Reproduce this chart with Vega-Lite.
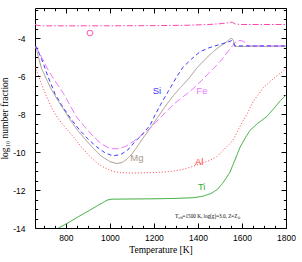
{
  "$schema": "https://vega.github.io/schema/vega-lite/v6.json",
  "width": 251,
  "height": 220,
  "autosize": "none",
  "padding": {"left": 35, "top": 8, "right": 16, "bottom": 34},
  "config": {"view": {"stroke": "black", "strokeWidth": 1}},
  "datasets": {
    "curves": [
      {"s":"Ti","T":766,"v":-14},{"s":"Ti","T":800,"v":-13.8},{"s":"Ti","T":850,"v":-13.45},{"s":"Ti","T":900,"v":-13.12},{"s":"Ti","T":950,"v":-12.78},{"s":"Ti","T":990,"v":-12.52},{"s":"Ti","T":1010,"v":-12.48},{"s":"Ti","T":1100,"v":-12.47},{"s":"Ti","T":1200,"v":-12.46},{"s":"Ti","T":1300,"v":-12.44},{"s":"Ti","T":1380,"v":-12.4},{"s":"Ti","T":1420,"v":-12.33},{"s":"Ti","T":1460,"v":-12.18},{"s":"Ti","T":1490,"v":-11.95},{"s":"Ti","T":1515,"v":-11.6},{"s":"Ti","T":1546,"v":-11.05},{"s":"Ti","T":1556,"v":-10.75},{"s":"Ti","T":1568,"v":-10.42},{"s":"Ti","T":1591,"v":-9.75},{"s":"Ti","T":1615,"v":-9.25},{"s":"Ti","T":1637,"v":-8.85},{"s":"Ti","T":1670,"v":-8.5},{"s":"Ti","T":1712,"v":-8.13},{"s":"Ti","T":1745,"v":-7.7},{"s":"Ti","T":1773,"v":-7.3},{"s":"Ti","T":1800,"v":-6.99},
      {"s":"Al","T":660,"v":-5.5},{"s":"Al","T":672,"v":-5.85},{"s":"Al","T":683,"v":-6.2},{"s":"Al","T":698,"v":-6.65},{"s":"Al","T":713,"v":-7.08},{"s":"Al","T":735,"v":-7.65},{"s":"Al","T":760,"v":-8.15},{"s":"Al","T":790,"v":-8.6},{"s":"Al","T":834,"v":-9.19},{"s":"Al","T":865,"v":-9.65},{"s":"Al","T":895,"v":-10.05},{"s":"Al","T":925,"v":-10.4},{"s":"Al","T":955,"v":-10.68},{"s":"Al","T":985,"v":-10.88},{"s":"Al","T":1016,"v":-11.02},{"s":"Al","T":1050,"v":-11.08},{"s":"Al","T":1100,"v":-11.1},{"s":"Al","T":1200,"v":-11.08},{"s":"Al","T":1280,"v":-11.02},{"s":"Al","T":1334,"v":-10.9},{"s":"Al","T":1370,"v":-10.78},{"s":"Al","T":1410,"v":-10.62},{"s":"Al","T":1450,"v":-10.45},{"s":"Al","T":1485,"v":-10.25},{"s":"Al","T":1520,"v":-9.85},{"s":"Al","T":1550,"v":-9.5},{"s":"Al","T":1565,"v":-9.25},{"s":"Al","T":1580,"v":-8.9},{"s":"Al","T":1600,"v":-8.45},{"s":"Al","T":1625,"v":-7.95},{"s":"Al","T":1650,"v":-7.35},{"s":"Al","T":1697,"v":-6.6},{"s":"Al","T":1750,"v":-6.05},{"s":"Al","T":1800,"v":-5.6},
      {"s":"Mg","T":660,"v":-4.45},{"s":"Mg","T":667,"v":-4.6},{"s":"Mg","T":678,"v":-5.1},{"s":"Mg","T":690,"v":-5.6},{"s":"Mg","T":710,"v":-6.1},{"s":"Mg","T":730,"v":-6.6},{"s":"Mg","T":760,"v":-7.2},{"s":"Mg","T":790,"v":-7.75},{"s":"Mg","T":820,"v":-8.3},{"s":"Mg","T":850,"v":-8.8},{"s":"Mg","T":890,"v":-9.35},{"s":"Mg","T":925,"v":-9.8},{"s":"Mg","T":960,"v":-10.2},{"s":"Mg","T":1000,"v":-10.5},{"s":"Mg","T":1031,"v":-10.6},{"s":"Mg","T":1055,"v":-10.55},{"s":"Mg","T":1076,"v":-10.38},{"s":"Mg","T":1100,"v":-10.1},{"s":"Mg","T":1122,"v":-9.75},{"s":"Mg","T":1145,"v":-9.35},{"s":"Mg","T":1170,"v":-8.95},{"s":"Mg","T":1200,"v":-8.45},{"s":"Mg","T":1230,"v":-7.95},{"s":"Mg","T":1260,"v":-7.45},{"s":"Mg","T":1290,"v":-7.0},{"s":"Mg","T":1320,"v":-6.6},{"s":"Mg","T":1330,"v":-6.48},{"s":"Mg","T":1360,"v":-6.1},{"s":"Mg","T":1394,"v":-5.58},{"s":"Mg","T":1410,"v":-5.38},{"s":"Mg","T":1440,"v":-5.02},{"s":"Mg","T":1470,"v":-4.7},{"s":"Mg","T":1500,"v":-4.42},{"s":"Mg","T":1531,"v":-4.18},{"s":"Mg","T":1549,"v":-4.0},{"s":"Mg","T":1556,"v":-4.02},{"s":"Mg","T":1562,"v":-4.15},{"s":"Mg","T":1567,"v":-4.43},{"s":"Mg","T":1800,"v":-4.42},
      {"s":"Fe","T":660,"v":-4.45},{"s":"Fe","T":668,"v":-4.52},{"s":"Fe","T":680,"v":-4.75},{"s":"Fe","T":690,"v":-5.0},{"s":"Fe","T":710,"v":-5.45},{"s":"Fe","T":728,"v":-5.84},{"s":"Fe","T":760,"v":-6.4},{"s":"Fe","T":789,"v":-6.9},{"s":"Fe","T":820,"v":-7.55},{"s":"Fe","T":849,"v":-8.15},{"s":"Fe","T":885,"v":-8.65},{"s":"Fe","T":923,"v":-9.15},{"s":"Fe","T":960,"v":-9.55},{"s":"Fe","T":1001,"v":-9.82},{"s":"Fe","T":1040,"v":-9.82},{"s":"Fe","T":1070,"v":-9.7},{"s":"Fe","T":1105,"v":-9.45},{"s":"Fe","T":1140,"v":-9.15},{"s":"Fe","T":1182,"v":-8.75},{"s":"Fe","T":1228,"v":-8.2},{"s":"Fe","T":1287,"v":-7.5},{"s":"Fe","T":1330,"v":-7.1},{"s":"Fe","T":1364,"v":-6.8},{"s":"Fe","T":1400,"v":-6.42},{"s":"Fe","T":1441,"v":-5.93},{"s":"Fe","T":1470,"v":-5.6},{"s":"Fe","T":1500,"v":-5.23},{"s":"Fe","T":1520,"v":-4.95},{"s":"Fe","T":1535,"v":-4.72},{"s":"Fe","T":1548,"v":-4.52},{"s":"Fe","T":1558,"v":-4.38},{"s":"Fe","T":1568,"v":-4.22},{"s":"Fe","T":1582,"v":-4.12},{"s":"Fe","T":1598,"v":-4.12},{"s":"Fe","T":1612,"v":-4.2},{"s":"Fe","T":1622,"v":-4.35},{"s":"Fe","T":1632,"v":-4.4},{"s":"Fe","T":1800,"v":-4.4},
      {"s":"Si","T":660,"v":-4.42},{"s":"Si","T":667,"v":-4.45},{"s":"Si","T":675,"v":-4.7},{"s":"Si","T":690,"v":-5.1},{"s":"Si","T":700,"v":-5.4},{"s":"Si","T":720,"v":-6.05},{"s":"Si","T":750,"v":-6.9},{"s":"Si","T":780,"v":-7.5},{"s":"Si","T":820,"v":-8.2},{"s":"Si","T":860,"v":-8.8},{"s":"Si","T":900,"v":-9.3},{"s":"Si","T":940,"v":-9.72},{"s":"Si","T":980,"v":-10.05},{"s":"Si","T":1015,"v":-10.2},{"s":"Si","T":1050,"v":-10.12},{"s":"Si","T":1080,"v":-9.9},{"s":"Si","T":1110,"v":-9.5},{"s":"Si","T":1140,"v":-9.15},{"s":"Si","T":1182,"v":-8.6},{"s":"Si","T":1205,"v":-8.05},{"s":"Si","T":1230,"v":-7.5},{"s":"Si","T":1265,"v":-6.8},{"s":"Si","T":1300,"v":-6.1},{"s":"Si","T":1330,"v":-5.55},{"s":"Si","T":1370,"v":-5.1},{"s":"Si","T":1410,"v":-4.7},{"s":"Si","T":1450,"v":-4.5},{"s":"Si","T":1500,"v":-4.32},{"s":"Si","T":1537,"v":-4.2},{"s":"Si","T":1552,"v":-4.12},{"s":"Si","T":1560,"v":-4.2},{"s":"Si","T":1568,"v":-4.4},{"s":"Si","T":1800,"v":-4.4},
      {"s":"O","T":660,"v":-3.26},{"s":"O","T":672,"v":-3.32},{"s":"O","T":690,"v":-3.34},{"s":"O","T":800,"v":-3.34},{"s":"O","T":1000,"v":-3.34},{"s":"O","T":1200,"v":-3.33},{"s":"O","T":1350,"v":-3.31},{"s":"O","T":1450,"v":-3.27},{"s":"O","T":1500,"v":-3.23},{"s":"O","T":1530,"v":-3.19},{"s":"O","T":1550,"v":-3.15},{"s":"O","T":1558,"v":-3.16},{"s":"O","T":1570,"v":-3.25},{"s":"O","T":1600,"v":-3.27},{"s":"O","T":1800,"v":-3.27}
    ],
    "labels": [
      {"s":"O","label":"O","T":910,"v":-3.73},
      {"s":"Si","label":"Si","T":1214,"v":-6.78},
      {"s":"Fe","label":"Fe","T":1418,"v":-6.78},
      {"s":"Mg","label":"Mg","T":1123,"v":-10.3},
      {"s":"Al","label":"Al","T":1406,"v":-10.54},
      {"s":"Ti","label":"Ti","T":1417,"v":-11.82}
    ],
    "note": [{"T":1296,"v":-13.47}]
  },
  "layer": [
    {
      "data": {"name": "curves"},
      "mark": {"type": "line", "strokeWidth": 1, "clip": true},
      "encoding": {
        "x": {"field": "T", "type": "quantitative",
          "scale": {"domain": [660, 1800], "nice": false, "zero": false},
          "axis": {"orient": "bottom",
            "values": [700,750,800,850,900,950,1000,1050,1100,1150,1200,1250,1300,1350,1400,1450,1500,1550,1600,1650,1700,1750,1800],
            "tickSize": {"condition": {"test": "datum.value % 200 === 0", "value": -5}, "value": -2.7},
            "labelExpr": "datum.value % 200 === 0 ? '' + datum.value : ''",
            "labelPadding": 10, "labelFont": "Liberation Sans", "labelFontSize": 8.5, "labelColor": "black",
            "labelFlush": false, "labelOverlap": false,
            "tickColor": "black", "domain": false, "grid": false,
            "title": "Temperature [K]", "titleFont": "Liberation Serif", "titleFontSize": 9.5, "titleFontWeight": "normal", "titleColor": "black", "titlePadding": 1}},
        "y": {"field": "v", "type": "quantitative",
          "scale": {"domain": [-14, -2.4], "nice": false, "zero": false},
          "axis": {"orient": "left",
            "values": [-14,-13.5,-13,-12.5,-12,-11.5,-11,-10.5,-10,-9.5,-9,-8.5,-8,-7.5,-7,-6.5,-6,-5.5,-5,-4.5,-4,-3.5,-3,-2.5],
            "tickSize": {"condition": {"test": "datum.value % 2 === 0", "value": -5}, "value": -2.7},
            "labelExpr": "datum.value % 2 === 0 ? '' + datum.value : ''",
            "labelPadding": 15, "labelFont": "Liberation Sans", "labelFontSize": 8.5, "labelColor": "black",
            "labelFlush": false, "labelOverlap": false,
            "tickColor": "black", "domain": false, "grid": false,
            "title": "log₁₀ number fraction", "titleFont": "Liberation Serif", "titleFontSize": 9.5, "titleFontWeight": "normal", "titleColor": "black", "titlePadding": 3}},
        "color": {"field": "s", "type": "nominal",
          "scale": {"domain": ["O","Si","Fe","Mg","Al","Ti"], "range": ["#ff44b0","#3a3aff","#ee77ff","#a89888","#ff4040","#33a833"]},
          "legend": null},
        "strokeDash": {"field": "s", "type": "nominal",
          "scale": {"domain": ["O","Si","Fe","Mg","Al","Ti"], "range": [[6,2,1.5,2],[4,3],[7,3],[1,0],[1,2],[1,0]]},
          "legend": null}
      }
    },
    {
      "data": {"name": "labels"},
      "mark": {"type": "text", "font": "Liberation Sans", "fontSize": 9.5, "align": "center", "baseline": "middle"},
      "encoding": {
        "x": {"field": "T", "type": "quantitative",
          "axis": {"orient": "top",
            "values": [700,750,800,850,900,950,1000,1050,1100,1150,1200,1250,1300,1350,1400,1450,1500,1550,1600,1650,1700,1750,1800],
            "tickSize": {"condition": {"test": "datum.value % 200 === 0", "value": -5}, "value": -2.7},
            "labels": false, "tickColor": "black", "domain": false, "grid": false, "title": null}},
        "y": {"field": "v", "type": "quantitative",
          "axis": {"orient": "right",
            "values": [-14,-13.5,-13,-12.5,-12,-11.5,-11,-10.5,-10,-9.5,-9,-8.5,-8,-7.5,-7,-6.5,-6,-5.5,-5,-4.5,-4,-3.5,-3,-2.5],
            "tickSize": {"condition": {"test": "datum.value % 2 === 0", "value": -5}, "value": -2.7},
            "labels": false, "tickColor": "black", "domain": false, "grid": false, "title": null}},
        "text": {"field": "label"},
        "color": {"field": "s", "type": "nominal", "legend": null}
      }
    },
    {
      "data": {"name": "note"},
      "mark": {"type": "text", "text": "T", "font": "Liberation Serif", "fontSize": 5.5, "align": "left", "baseline": "alphabetic", "color": "black"},
      "encoding": {"x": {"field": "T", "type": "quantitative", "axis": null}, "y": {"field": "v", "type": "quantitative", "axis": null}}
    },
    {
      "data": {"name": "note"},
      "mark": {"type": "text", "text": "eff", "font": "Liberation Serif", "fontSize": 4, "align": "left", "baseline": "alphabetic", "dx": 3.4, "dy": 1.5, "color": "black"},
      "encoding": {"x": {"field": "T", "type": "quantitative", "axis": null}, "y": {"field": "v", "type": "quantitative", "axis": null}}
    },
    {
      "data": {"name": "note"},
      "mark": {"type": "text", "text": "=1500 K, log(g)=3.0, Z=Z", "font": "Liberation Serif", "fontSize": 5.2, "align": "left", "baseline": "alphabetic", "dx": 7.5, "color": "black"},
      "encoding": {"x": {"field": "T", "type": "quantitative", "axis": null}, "y": {"field": "v", "type": "quantitative", "axis": null}}
    },
    {
      "data": {"name": "note"},
      "mark": {"type": "text", "text": "⊙", "font": "DejaVu Sans", "fontSize": 3.5, "align": "left", "baseline": "alphabetic", "dx": 62.5, "dy": 1.5, "color": "black"},
      "encoding": {"x": {"field": "T", "type": "quantitative", "axis": null}, "y": {"field": "v", "type": "quantitative", "axis": null}}
    }
  ],
  "resolve": {"axis": {"x": "independent", "y": "independent"}}
}
